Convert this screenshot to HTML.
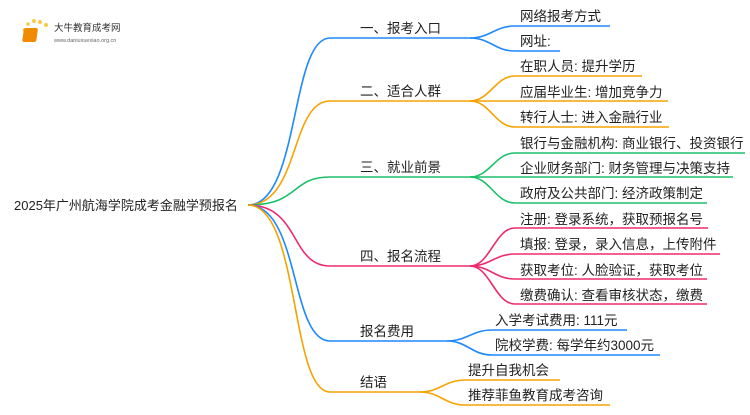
<!DOCTYPE html>
<html><head><meta charset="utf-8"><style>
body{margin:0;width:750px;height:410px;background:#fff;overflow:hidden}
svg text{font-family:"Liberation Sans","Noto Sans CJK SC",sans-serif;fill:#222}
</style></head><body>
<svg width="750" height="410" viewBox="0 0 750 410" xmlns="http://www.w3.org/2000/svg">
<g fill="none" stroke-width="1.6">
<path d="M248,205 C300,205 290,38 330,38 L470,38" stroke="#1e88ff"/>
<path d="M248,205 C300,205 290,101 330,101 L470,101" stroke="#f5a300"/>
<path d="M248,205 C300,205 290,177 330,177 L470,177" stroke="#1cbf6a"/>
<path d="M248,205 C300,205 290,266 330,266 L470,266" stroke="#ee2a6e"/>
<path d="M248,205 C300,205 290,341 330,341 L447,341" stroke="#1e88ff"/>
<path d="M248,205 C300,205 290,392 330,392 L420,392" stroke="#f5a300"/>
<g stroke="#1e88ff">
<path d="M470,38 C490,38 495,26 515,26 L610,26"/>
<path d="M470,38 C490,38 495,51 515,51 L560,51"/>
<path d="M447,341 C467,341 472,330 492,330 L627,330"/>
<path d="M447,341 C467,341 472,355 492,355 L660,355"/>
</g>
<g stroke="#f5a300">
<path d="M470,101 C490,101 495,76 515,76 L642,76"/>
<path d="M470,101 L668,101"/>
<path d="M470,101 C490,101 495,127 515,127 L669,127"/>
<path d="M420,392 C440,392 445,380 465,380 L560,380"/>
<path d="M420,392 C440,392 445,405 465,405 L610,405"/>
</g>
<g stroke="#1cbf6a">
<path d="M470,177 C490,177 495,153 515,153 L745,153"/>
<path d="M470,177 L733,177"/>
<path d="M470,177 C490,177 495,203 515,203 L707,203"/>
</g>
<g stroke="#ee2a6e">
<path d="M470,266 C490,266 495,228 515,228 L708,228"/>
<path d="M470,266 C490,266 495,254 515,254 L720,254"/>
<path d="M470,266 C490,266 495,279 515,279 L707,279"/>
<path d="M470,266 C490,266 495,304 515,304 L707,304"/>
</g>
</g>
<g>
<circle cx="24" cy="30" r="1.5" fill="#f7c948"/><circle cx="28" cy="24" r="1.8" fill="#f7c948"/>
<circle cx="34" cy="21" r="2" fill="#f7c948"/><circle cx="40" cy="22" r="2" fill="#f7c948"/>
<circle cx="46" cy="25" r="2" fill="#f7c948"/>
<rect x="28" y="28" width="14" height="14" rx="2" fill="#f08a00" transform="skewX(-8)"/>
<text x="54" y="31" font-size="9.5" style="fill:#333">大牛教育成考网</text>
<text x="54" y="42" font-size="5.5" style="fill:#666">www.daniuxuexiao.org.cn</text>
</g>
<g font-size="13.5">
<text x="14" y="210" font-size="13">2025年广州航海学院成考金融学预报名</text>
<text x="360" y="33">一、报考入口</text>
<text x="360" y="96">二、适合人群</text>
<text x="360" y="172">三、就业前景</text>
<text x="360" y="261">四、报名流程</text>
<text x="360" y="336">报名费用</text>
<text x="360" y="387">结语</text>
<text x="520" y="21">网络报考方式</text>
<text x="520" y="46">网址:</text>
<text x="520" y="71">在职人员: 提升学历</text>
<text x="520" y="97">应届毕业生: 增加竞争力</text>
<text x="520" y="122">转行人士: 进入金融行业</text>
<text x="520" y="148">银行与金融机构: 商业银行、投资银行</text>
<text x="520" y="173">企业财务部门: 财务管理与决策支持</text>
<text x="520" y="198">政府及公共部门: 经济政策制定</text>
<text x="520" y="224">注册: 登录系统，获取预报名号</text>
<text x="520" y="249">填报: 登录，录入信息，上传附件</text>
<text x="520" y="275">获取考位: 人脸验证，获取考位</text>
<text x="520" y="300">缴费确认: 查看审核状态，缴费</text>
<text x="495" y="325">入学考试费用: 111元</text>
<text x="495" y="350">院校学费: 每学年约3000元</text>
<text x="468" y="375">提升自我机会</text>
<text x="468" y="400">推荐菲鱼教育成考咨询</text>
</g>
</svg>
</body></html>
